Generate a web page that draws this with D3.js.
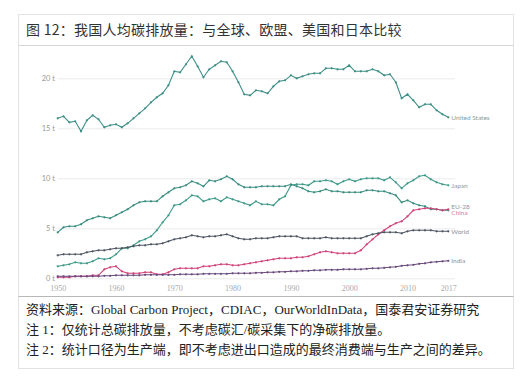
<!DOCTYPE html>
<html><head><meta charset="utf-8">
<script src="https://cdn.jsdelivr.net/npm/d3@7"></script>
<style>
html,body{margin:0;padding:0;background:#fff;}
svg{display:block;}
</style></head>
<body>
<svg id="chart" width="532" height="380"></svg>
<script>
const years = d3.range(1950, 2018);
const usValues = [16.0,16.2,15.6,15.7,14.7,15.8,16.3,15.9,15.1,15.3,
  15.4,15.1,15.5,16.0,16.5,17.0,17.6,18.1,18.5,19.3,
  20.7,20.6,21.4,22.2,21.2,20.1,20.9,21.3,21.7,21.6,
  20.7,19.6,18.4,18.3,18.8,18.7,18.5,19.2,19.7,19.8,
  20.3,20.0,20.2,20.4,20.5,20.5,21.0,21.0,20.9,20.9,
  21.3,20.7,20.7,20.7,20.9,20.7,20.3,20.4,19.6,18.0,
  18.4,17.8,17.1,17.4,17.4,16.8,16.4,16.1];
const japanValues = [1.2,1.3,1.4,1.6,1.5,1.5,1.7,2.0,1.9,2.0,
  2.4,3.0,3.0,3.3,3.7,3.9,4.2,4.8,5.6,6.3,
  7.3,7.4,7.8,8.3,8.2,7.7,7.9,8.0,7.7,8.1,
  7.9,7.7,7.5,7.3,7.7,7.4,7.4,7.3,7.9,8.2,
  9.3,9.4,9.4,9.3,9.7,9.7,9.8,9.7,9.4,9.7,
  9.9,9.7,9.9,10.0,10.0,10.0,9.8,10.1,9.6,9.0,
  9.5,9.8,10.2,10.3,9.9,9.6,9.4,9.3];
const euValues = [4.6,5.1,5.2,5.2,5.4,5.8,6.0,6.2,6.1,6.0,
  6.3,6.6,6.9,7.3,7.6,7.7,7.7,7.7,8.2,8.6,
  9.0,9.1,9.3,9.7,9.5,9.2,9.8,9.7,9.9,10.2,
  9.9,9.4,9.1,9.1,9.1,9.2,9.2,9.2,9.2,9.2,
  9.4,9.2,9.0,8.7,8.6,8.7,8.9,8.7,8.7,8.6,
  8.6,8.6,8.6,8.8,8.8,8.7,8.7,8.5,8.3,7.6,
  7.8,7.5,7.3,7.2,6.9,6.9,6.8,6.8];
const chinaValues = [0.1,0.1,0.1,0.2,0.2,0.2,0.3,0.3,0.9,1.1,
  1.2,0.7,0.5,0.5,0.5,0.6,0.6,0.4,0.4,0.6,
  0.9,1.0,1.0,1.0,1.0,1.2,1.2,1.3,1.4,1.4,
  1.3,1.3,1.4,1.5,1.6,1.7,1.8,1.9,2.0,2.0,
  2.0,2.1,2.1,2.2,2.4,2.6,2.7,2.6,2.5,2.5,
  2.5,2.5,2.8,3.4,3.9,4.4,4.8,5.2,5.5,5.7,
  6.2,6.8,6.9,7.0,7.0,6.9,6.8,6.9];
const worldValues = [2.3,2.4,2.4,2.4,2.4,2.6,2.7,2.8,2.8,2.9,
  3.0,3.0,3.1,3.2,3.3,3.3,3.4,3.4,3.5,3.7,
  3.9,4.0,4.1,4.3,4.2,4.1,4.2,4.2,4.3,4.4,
  4.2,4.0,3.9,3.9,4.0,4.0,4.0,4.1,4.2,4.2,
  4.2,4.2,4.0,4.0,4.0,4.0,4.1,4.0,4.0,4.0,
  4.0,4.0,4.0,4.2,4.4,4.5,4.6,4.6,4.6,4.5,
  4.7,4.8,4.8,4.8,4.8,4.7,4.7,4.7];
const indiaValues = [0.2,0.2,0.2,0.2,0.2,0.2,0.2,0.2,0.25,0.25,
  0.3,0.3,0.3,0.3,0.3,0.35,0.35,0.35,0.35,0.35,
  0.35,0.4,0.4,0.4,0.4,0.45,0.45,0.45,0.45,0.45,
  0.5,0.5,0.5,0.5,0.55,0.55,0.6,0.6,0.65,0.65,
  0.7,0.7,0.75,0.75,0.8,0.8,0.85,0.85,0.85,0.9,
  0.9,0.9,0.9,0.95,1.0,1.0,1.05,1.1,1.15,1.25,
  1.3,1.35,1.45,1.5,1.6,1.65,1.7,1.75];
const seriesNames = ["United States","Japan","EU-28","China","World","India"];
const yTicks = [0,5,10,15,20];
const yTickLabels = ["0 t","5 t","10 t","15 t","20 t"];
const xTicks = [1950,1960,1970,1980,1990,2000,2010,2017];
const titleText = "图 12：我国人均碳排放量：与全球、欧盟、美国和日本比较";
const notes = ["资料来源：Global Carbon Project，CDIAC，OurWorldInData，国泰君安证券研究",
  "注 1：仅统计总碳排放量，不考虑碳汇/碳采集下的净碳排放量。",
  "注 2：统计口径为生产端，即不考虑进出口造成的最终消费端与生产之间的差异。"];

const series = [
  {name:"United States", values:usValues, color:"#3e8f86", labelColor:"#8a9a98", dy:0.5},
  {name:"Japan", values:japanValues, color:"#3f9a89", labelColor:"#8a9a98", dy:0.5},
  {name:"EU-28", values:euValues, color:"#3a8d80", labelColor:"#8a9a98", dy:-3},
  {name:"China", values:chinaValues, color:"#d0437a", labelColor:"#d57a9c", dy:4},
  {name:"World", values:worldValues, color:"#4d5562", labelColor:"#8a8f98", dy:0.5},
  {name:"India", values:indiaValues, color:"#6a4a7c", labelColor:"#8a8f98", dy:0.5}
];

const svg = d3.select("#chart");
const x = d3.scaleLinear().domain([1950,2017]).range([57.7,448.3]);
const y = d3.scaleLinear().domain([0,20]).range([278.3,78.3]);

// frame
svg.append("rect").attr("x",18.5).attr("y",14.5).attr("width",495).attr("height",354)
  .attr("fill","#fff").attr("stroke","#e2e2e2");
svg.append("line").attr("x1",18.5).attr("x2",513.5).attr("y1",45.5).attr("y2",45.5).attr("stroke","#d8d8d8");
svg.append("line").attr("x1",18.5).attr("x2",513.5).attr("y1",296.5).attr("y2",296.5).attr("stroke","#b8b8b8");

svg.append("text").attr("x",26).attr("y",35).text(titleText)
  .attr("font-family","'Noto Sans CJK SC', sans-serif").attr("font-size",14)
  .attr("letter-spacing",0.25).attr("fill","#333");

// grid
const yAxis = d3.axisLeft(y).tickValues(yTicks).tickSize(-397)
  .tickFormat((d,i)=>yTickLabels[i]);
const gy = svg.append("g").attr("transform","translate(58,0)").call(yAxis);
gy.select(".domain").remove();
gy.selectAll(".tick line").attr("stroke","#ececec");
gy.selectAll(".tick text").attr("x",-3).attr("font-family","Lato, sans-serif")
  .attr("font-size",7.5).attr("fill","#999");

const xAxis = d3.axisBottom(x).tickValues(xTicks).tickSize(0).tickFormat(d3.format("d"));
const gx = svg.append("g").attr("transform","translate(0,282)").call(xAxis);
gx.select(".domain").remove();
gx.selectAll(".tick text").attr("font-family","'Liberation Serif', serif")
  .attr("font-size",8).attr("fill","#aaa").attr("dy","0.71em");

const line = d3.line().x((d,i)=>x(years[i])).y(d=>y(d));
series.forEach(s=>{
  const g = svg.append("g");
  g.append("path").datum(s.values).attr("d",line).attr("fill","none")
    .attr("stroke",s.color).attr("stroke-width",1.1);
  g.selectAll("circle").data(s.values).join("circle")
    .attr("cx",(d,i)=>x(years[i])).attr("cy",d=>y(d)).attr("r",1.1).attr("fill",s.color);
  g.append("text").attr("x",x(2017)+3).attr("y",y(s.values[s.values.length-1])+s.dy)
    .attr("dy","0.32em").text(s.name).attr("font-family","Lato, sans-serif")
    .attr("font-size",6.5).attr("fill",s.labelColor);
});

// notes
notes.forEach((t,i)=>{
  svg.append("text").attr("x",26).attr("y",314 + i*20).text(t)
    .attr("font-family","'Liberation Serif','Noto Sans CJK SC', serif")
    .attr("font-size",13).attr("fill","#222");
});
</script>
</body></html>
